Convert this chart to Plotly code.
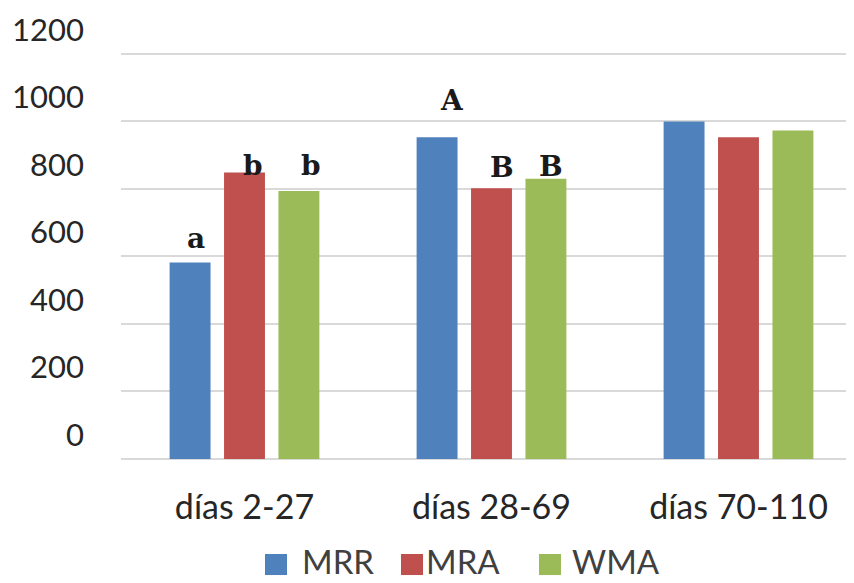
import plotly.graph_objects as go

# ---- data ----
categories = ["días 2-27", "días 28-69", "días 70-110"]
series_names = ["MRR", "MRA", "WMA"]
mrr = [582, 953, 1000]
mra = [849, 802, 953]
wma = [794, 830, 973]
letters_mrr = ["a", "A", ""]
letters_mra = ["b", "B", ""]
letters_wma = ["b", "B", ""]
y_ticks = [0, 200, 400, 600, 800, 1000, 1200]

colors = ["#4F81BD", "#C0504D", "#9BBB59"]
values = [mrr, mra, wma]
letters = [letters_mrr, letters_mra, letters_wma]

# page is rendered with an 8px body margin -> work in page coords minus OFF
OFF = 8
W, H = 854, 583
L = 121 - OFF
bottom_px = 459 - OFF
px_per_unit = (459 - 54) / 1200.0
YMAX = 1250
lab_shift = 24
plot_h = YMAX * px_per_unit
T = bottom_px - plot_h - lab_shift
B = H - bottom_px
R = 0
PW = W - L - R
PH = H - T - B


def xp(px_page):
    return (px_page - OFF - L) / PW


def yp(py_page):
    return (bottom_px - (py_page - OFF)) / PH


fig = go.Figure()
for name, vals, col in zip(series_names, values, colors):
    fig.add_trace(go.Bar(name=name, x=categories, y=vals, marker_color=col,
                         marker_line_width=0, showlegend=False))

# empty trace so the (shifted) label axis is drawn
fig.add_trace(go.Scatter(x=[categories[0]], y=[None], yaxis="y2",
                         showlegend=False, hoverinfo="skip"))

# significance letters (pixel offsets relative to the bar top)
letter_offsets = [
    [(6, 24), (15, 37), (0, 0)],
    [(8, 7), (10, 21), (0, 0)],
    [(12, 25), (5, 12), (0, 0)],
]
bar_dx = [-54.3, 0, 54.3]
for si in range(3):
    for ci in range(3):
        t = letters[si][ci]
        if not t:
            continue
        dx, dy = letter_offsets[si][ci]
        fig.add_annotation(x=categories[ci], y=values[si][ci], xref="x", yref="y",
                           text="<b>" + t + "</b>", showarrow=False,
                           xanchor="center", yanchor="middle",
                           xshift=bar_dx[si] + dx, yshift=dy,
                           font=dict(family="DejaVu Serif", size=28, color="#1a1a1a"))

# manual legend (page pixel positions)
sw = [(265, 287), (401, 423), (539, 561)]
tx = [300, 424, 570]
for (x0, x1), t, name, col in zip(sw, tx, series_names, colors):
    fig.add_shape(type="rect", xref="paper", yref="paper",
                  x0=xp(x0), x1=xp(x1), y0=yp(554), y1=yp(575),
                  fillcolor=col, line_width=0)
    fig.add_annotation(x=xp(t), y=yp(561), xref="paper", yref="paper",
                       text=name, showarrow=False, xanchor="left", yanchor="middle",
                       font=dict(family="Lato", size=33, color="#404040"))

fig.update_layout(
    width=W, height=H,
    margin=dict(l=L, r=R, t=T, b=B, pad=0),
    paper_bgcolor="white", plot_bgcolor="rgba(0,0,0,0)",
    barmode="group", bargap=0.339, bargroupgap=0.248,
    showlegend=False,
    xaxis=dict(type="category", range=[-0.5, 2.5], showgrid=False, zeroline=False,
               showline=False, ticks="", tickfont=dict(family="Lato", size=34, color="#262626"),
               ticklabelstandoff=25),
    yaxis=dict(range=[0, YMAX], domain=[0, plot_h / PH], tickvals=y_ticks,
               showticklabels=False, showgrid=True, gridcolor="#D9D9D9", gridwidth=2,
               zeroline=True, zerolinecolor="#D9D9D9", zerolinewidth=2, ticks=""),
    yaxis2=dict(range=[0, YMAX], domain=[lab_shift / PH, 1.0], anchor="x", side="left",
                tickvals=y_ticks, showgrid=False, zeroline=False, showline=False, ticks="",
                tickfont=dict(family="Lato", size=31, color="#262626"),
                ticklabelstandoff=36),
)

fig.write_html("out.html")
